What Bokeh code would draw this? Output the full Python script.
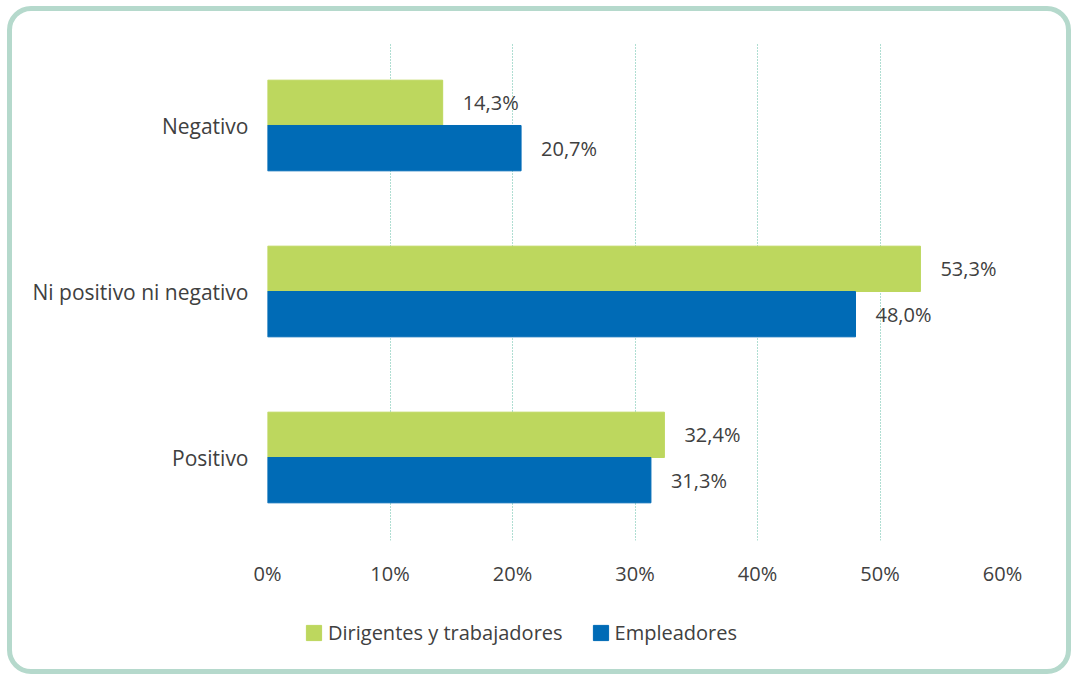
from bokeh.plotting import figure
from bokeh.models import ColumnDataSource, Range1d, FactorRange, Legend
from bokeh.layouts import column
from bokeh.transform import dodge
from bokeh.core.properties import value
from bokeh.embed import file_html
from bokeh.resources import INLINE

categories = ["Positivo", "Ni positivo ni negativo", "Negativo"]
dirigentes = [32.4, 53.3, 14.3]
empleadores = [31.3, 48.0, 20.7]
series_names = ["Dirigentes y trabajadores", "Empleadores"]
tick_values = [0, 10, 20, 30, 40, 50, 60]
tick_labels = ["0%", "10%", "20%", "30%", "40%", "50%", "60%"]

GREEN = "#bdd75e"
BLUE = "#006bb6"
TEXT = "#404040"
FONT = "Open Sans"
W = 1054


def fmt(v):
    return f"{v:.1f}%".replace(".", ",")


source = ColumnDataSource(dict(
    cat=categories,
    dirigentes=dirigentes,
    empleadores=empleadores,
    lab_d=[fmt(v) for v in dirigentes],
    lab_e=[fmt(v) for v in empleadores],
))

# ---- main chart ----
p = figure(
    width=W, height=588,
    y_range=FactorRange(factors=categories, range_padding=0),
    x_range=Range1d(0, 60),
    output_backend="svg", toolbar_location=None,
    min_border_left=255, min_border_right=64,
    min_border_top=31, min_border_bottom=59,
)
p.border_fill_color = None
p.background_fill_color = None
p.outline_line_color = None

bh = 0.273
p.hbar(y=dodge("cat", bh / 2, range=p.y_range), right="dirigentes", height=bh,
       source=source, color=GREEN)
p.hbar(y=dodge("cat", -bh / 2, range=p.y_range), right="empleadores", height=bh,
       source=source, color=BLUE)

p.text(x="dirigentes", y=dodge("cat", bh / 2, range=p.y_range), text="lab_d",
       source=source, x_offset=20, text_baseline="middle", text_align="left",
       text_font=value(FONT), text_font_size="20px", text_color=TEXT)
p.text(x="empleadores", y=dodge("cat", -bh / 2, range=p.y_range), text="lab_e",
       source=source, x_offset=20, text_baseline="middle", text_align="left",
       text_font=value(FONT), text_font_size="20px", text_color=TEXT)

p.ygrid.grid_line_color = None
p.xgrid.grid_line_color = "#5fbca5"
p.xgrid.grid_line_dash = "1 2"
p.xgrid.grid_line_width = 1

p.xaxis.ticker = tick_values
p.xaxis.major_label_overrides = {v: l for v, l in zip(tick_values, tick_labels)}
for ax in (p.xaxis, p.yaxis):
    ax.axis_line_color = None
    ax.major_tick_line_color = None
    ax.minor_tick_line_color = None
    ax.major_label_text_font = FONT
    ax.major_label_text_color = TEXT
p.xaxis.major_label_text_font_size = "20px"
p.xaxis.major_label_standoff = 13
p.yaxis.major_label_text_font_size = "21px"
p.yaxis.major_label_standoff = 13

# ---- legend strip: hidden proxy renderers carrying the series styles ----
lf = figure(
    width=W, height=70,
    y_range=FactorRange(factors=categories),
    x_range=Range1d(0, 60),
    output_backend="svg", toolbar_location=None,
    min_border=0,
)
lf.border_fill_color = None
lf.background_fill_color = None
lf.outline_line_color = None
lf.xaxis.visible = False
lf.yaxis.visible = False
lf.xgrid.grid_line_color = None
lf.ygrid.grid_line_color = None
g1 = lf.hbar(y="cat", right="dirigentes", height=0.5, source=source, color=GREEN,
             visible=False)
g2 = lf.hbar(y="cat", right="empleadores", height=0.5, source=source, color=BLUE,
             visible=False)

lg = Legend(items=[(series_names[0], [g1]), (series_names[1], [g2])])
lg.orientation = "horizontal"
lg.location = (37, 23)
lg.border_line_color = None
lg.background_fill_alpha = 0
lg.inactive_fill_alpha = 0
lg.padding = 0
lg.margin = 0
lg.spacing = 28
lg.glyph_width = 19
lg.glyph_height = 19
lg.label_height = 19
lg.label_standoff = 5
lg.label_text_font = FONT
lg.label_text_font_size = "20px"
lg.label_text_color = TEXT
lf.add_layout(lg)

layout = column(p, lf, spacing=0)
layout.styles = {
    "border": "5px solid #b5d9cc",
    "border-radius": "24px",
    "margin-left": "7px",
    "margin-top": "6px",
    "overflow": "hidden",
}

open("out.html", "w").write(file_html(layout, INLINE))
